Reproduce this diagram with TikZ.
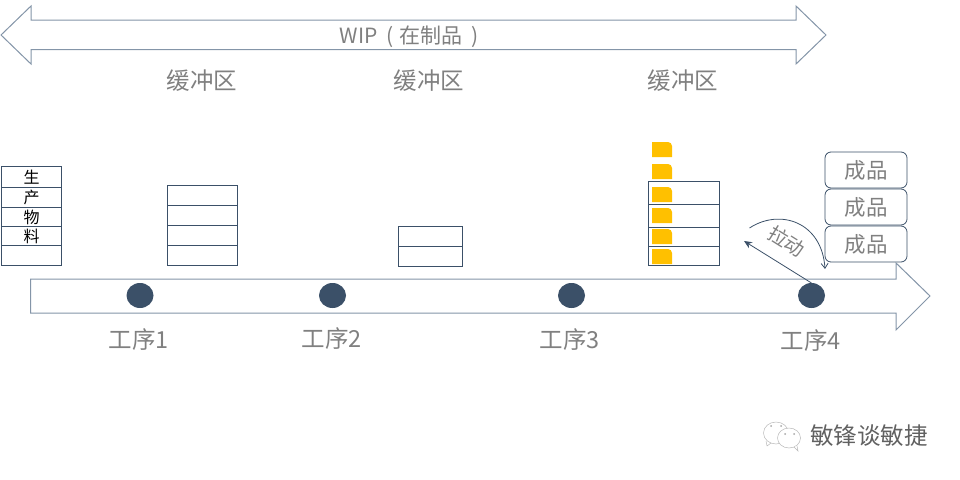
\documentclass[tikz,border=0pt]{standalone}
\usepackage{fontspec}
\setmainfont{Noto Sans CJK SC}
\usetikzlibrary{arrows.meta,shapes.geometric}
\definecolor{navy}{HTML}{3B5068}
\definecolor{arrowline}{HTML}{8495A8}
\definecolor{lab}{HTML}{808080}
\definecolor{gold}{HTML}{FFC000}
\tikzset{
 x=1pt,y=-1pt,
 cell/.style={draw=navy,line width=0.8pt,fill=white,minimum width=#1,inner sep=0pt,outer sep=0pt,anchor=north west},
 big/.style={draw=arrowline,line width=1pt,fill=white,line join=miter},
 lbl/.style={text=lab,inner sep=0pt,font=\fontsize{#1}{#1}\selectfont},
 lbl/.default=23.5pt,
 dot/.style={ellipse,fill=navy,minimum width=27pt,minimum height=25pt,inner sep=0pt,outer sep=0pt},
 goods/.style={draw=navy,line width=0.8pt,rounded corners=6pt,fill=white,minimum width=82pt,minimum height=36pt,inner sep=0pt,text=lab,font=\fontsize{21.5}{21.5}\selectfont},
 chip/.style={fill=gold,draw=none},
 mat/.style={text=black,font=\fontsize{16}{16}\selectfont},
}
\newcommand{\chipat}[1]{\fill[chip] (652,#1) -- (668,#1) to[out=0,in=90] (672,#1+4) -- (672,#1+15) -- (652,#1+15) -- cycle;}
\begin{document}
\begin{tikzpicture}
\useasboundingbox (0,0) rectangle (960,479);
% WIP arrow
\draw[big] (1,35) -- (31,6) -- (31,20) -- (796,20) -- (796,6) -- (826,35) -- (796,64) -- (796,49.5) -- (31,49.5) -- (31,64) -- cycle;
\node[lbl=21pt] (wip) at (409.5,36.5) {WIP\hspace{9pt}(\hspace{6pt}在制品\hspace{9pt})};
\node[lbl] (b1) at (202,81) {缓冲区};
\node[lbl] (b2) at (429,81) {缓冲区};
\node[lbl] (b3) at (683,81) {缓冲区};
% process arrow
\draw[big] (30.5,279) -- (896,279) -- (896,263) -- (930,296) -- (896,330) -- (896,313) -- (30.5,313) -- cycle;
% material stack
\node[cell=60pt,minimum height=21pt,mat] (m1) at (1.5,166.5) {生};
\node[cell=60pt,minimum height=20pt,mat] (m2) at (1.5,187.5) {产};
\node[cell=60pt,minimum height=19pt,mat] (m3) at (1.5,207.5) {物};
\node[cell=60pt,minimum height=19pt,mat] (m4) at (1.5,226.5) {料};
\node[cell=60pt,minimum height=20pt] (m5) at (1.5,245.5) {};
% buffer 1
\node[cell=70pt,minimum height=20pt] (a1) at (167.5,185.5) {};
\node[cell=70pt,minimum height=20pt] (a2) at (167.5,205.5) {};
\node[cell=70pt,minimum height=20pt] (a3) at (167.5,225.5) {};
\node[cell=70pt,minimum height=20pt] (a4) at (167.5,245.5) {};
\draw[navy,line width=1.5pt] (a3.north west) -- (a3.north east);
% buffer 2
\node[cell=64pt,minimum height=20pt] (c1) at (398,226.5) {};
\node[cell=64pt,minimum height=20pt] (c2) at (398,246.5) {};
% buffer 3
\node[cell=71pt,minimum height=23pt] (d1) at (648.5,181.5) {};
\node[cell=71pt,minimum height=23pt] (d2) at (648.5,204.5) {};
\node[cell=71pt,minimum height=19pt] (d3) at (648.5,227.5) {};
\node[cell=71pt,minimum height=19pt] (d4) at (648.5,246.5) {};
\chipat{142}\chipat{164}\chipat{187}\chipat{208}\chipat{229}\chipat{249}
% finished goods
\node[goods] (g1) at (866,170) {成品};
\node[goods] (g2) at (866,207) {成品};
\node[goods] (g3) at (866,244) {成品};
% process dots
\node[dot] (p1) at (140,295.5) {};
\node[dot] (p2) at (332.5,295.5) {};
\node[dot] (p3) at (571.5,295.5) {};
\node[dot] (p4) at (811.5,295.5) {};
\node[lbl] (t1) at (139,340) {工序1};
\node[lbl] (t2) at (332,339) {工序2};
\node[lbl] (t3) at (570,340) {工序3};
\node[lbl] (t4) at (811,341) {工序4};
% pull
\coordinate (pullstart) at (749.5,228);
\coordinate (pullend) at (825,269);
\coordinate (backtip) at (744,241);
\draw[navy,line width=0.8pt,-{Straight Barb[length=5pt,width=7pt]}] (pullstart) .. controls (780,208) and (822,222) .. (pullend);
\draw[navy,line width=0.8pt,-{Stealth[length=8pt,width=7pt]}] (p4.north) -- (backtip);
\node[lbl=19.5pt,rotate=-32] (pull) at (786.5,241) {拉动};
% watermark
\begin{scope}[draw=black!28,line width=0.5pt,fill=white]
\draw (776,433) ellipse [x radius=12.5pt,y radius=11pt];
\draw (766,441) -- (767,446) -- (771,443);
\draw[fill=white] (789,438) ellipse [x radius=11.5pt,y radius=10pt];
\draw[fill=white] (794,447) -- (798,451) -- (797,446);
\end{scope}
\fill[black!35] (771,426) circle (1pt) (781,426) circle (1pt) (785,434) circle (1pt) (794,434) circle (1pt);
\node[inner sep=0pt,text=black!62,font=\fontsize{23.5}{23.5}\selectfont] (wm) at (869,436) {敏锋谈敏捷};
\end{tikzpicture}
\end{document}
